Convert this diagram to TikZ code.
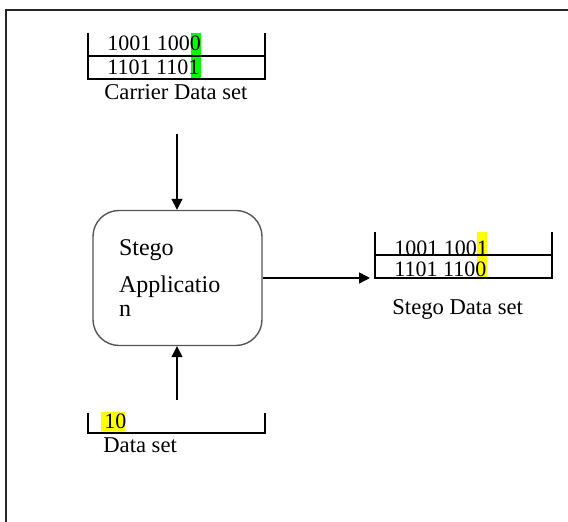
\documentclass[tikz,border=0pt]{standalone}
\usepackage{fontspec}
\setmainfont{Liberation Serif}
\usepackage{xcolor}
\usetikzlibrary{arrows.meta,positioning}
\definecolor{hlgreen}{HTML}{00FF00}
\definecolor{hlyellow}{HTML}{FFFF00}
\definecolor{boxgrey}{HTML}{555555}

\begin{document}
\begin{tikzpicture}[
  x=0.5pt, y=-0.5pt,
  font=\fontsize{11}{13}\selectfont,
  frame/.style={line width=1.2pt, black!85},
  tab/.style={line width=0.7pt, black},
  hl/.style={fill=#1, draw=none},
  bits/.style={anchor=base west, inner sep=0pt},
  lbl/.style={anchor=base west, inner sep=0pt, font=\fontsize{11.3}{13}\selectfont},
  appbox/.style={draw=boxgrey, line width=0.7pt, rounded corners=13pt, minimum width=84.5pt, minimum height=67.5pt,
    text width=58.5pt, align=left, inner sep=0pt, font=\fontsize{12}{10}\selectfont},
  arr/.style={-{Triangle[length=5.5pt,width=5.5pt]}, line width=0.7pt},
]
\useasboundingbox (0,0) rectangle (568,522);
% outer frame, only top and left edge visible
\draw[frame] (6,524) -- (6,10) -- (570,10);

% carrier data set
\fill[hl=hlgreen] (191,33) rectangle (201,79);
\draw[tab] (88,33) -- (88,79) -- (265,79) -- (265,33);
\draw[tab] (88,56) -- (265,56);
\node[bits] (c1) at (107,51) {1001 1000};
\node[bits] (c2) at (107,75) {1101 1101};
\node[lbl] (carrier) at (104,100) {Carrier Data set};

% stego application
\node[appbox] (app) at (177.5,278) {Stego\\[7pt]Applicatio\\[2pt]n};

% stego data set
\fill[hl=hlyellow] (477,232) rectangle (487,278);
\draw[tab] (375,232) -- (375,278) -- (552,278) -- (552,232);
\draw[tab] (375,255) -- (552,255);
\node[bits] (s1) at (394,256) {1001 1001};
\node[bits] (s2) at (394,277) {1101 1100};
\node[lbl] (stego) at (392,315) {Stego Data set};

% data set
\fill[hl=hlyellow] (101,412) rectangle (125,431);
\draw[tab] (88,413) -- (88,433) -- (265,433) -- (265,413);
\node[bits] (d1) at (104,429) {10};
\node[lbl] (data) at (103,453) {Data set};

% flow
\coordinate (carrier-out) at (177,134);
\coordinate (data-out) at (177,400);
\coordinate (stego-in) at (370,278);
\draw[arr] (carrier-out) -- (carrier-out |- app.north);
\draw[arr] (data-out) -- (data-out |- app.south);
\draw[arr] (app.east) -- (stego-in);
\end{tikzpicture}
\end{document}
